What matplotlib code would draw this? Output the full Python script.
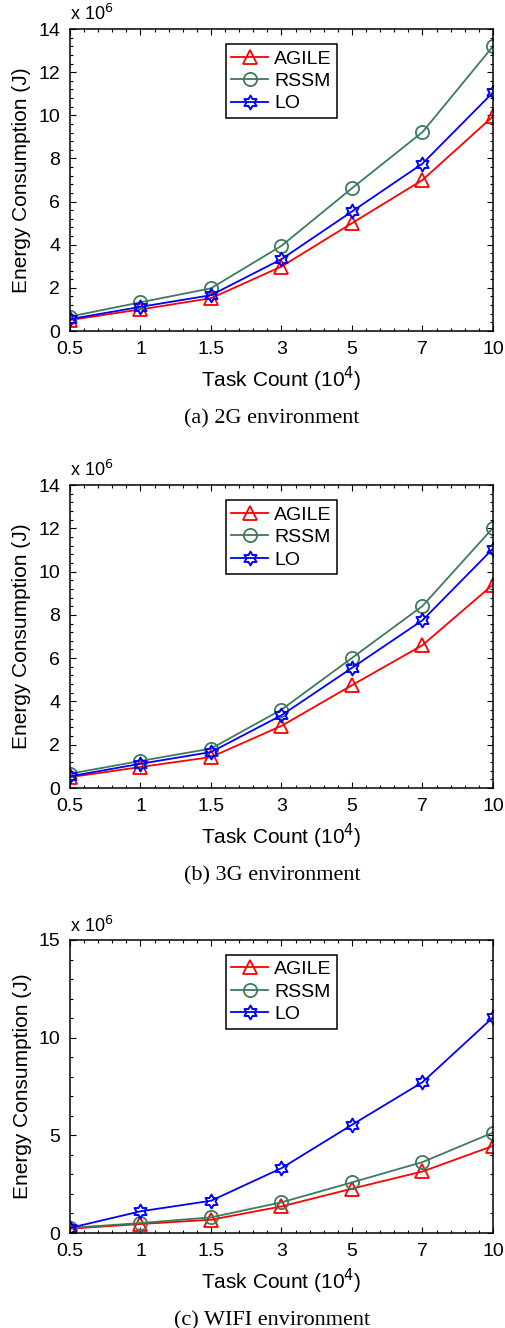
import numpy as np
import matplotlib
matplotlib.use('Agg')
import matplotlib.pyplot as plt
from matplotlib.path import Path
from matplotlib.ticker import AutoMinorLocator

# Task counts (x 10^4) shown as evenly spaced categories
task_labels = ['0.5', '1', '1.5', '3', '5', '7', '10']

# Energy consumption (x 10^6 J)
agile_2g = [0.51, 1.00, 1.52, 2.99, 5.00, 7.00, 9.95]
rssm_2g = [0.67, 1.33, 1.98, 3.95, 6.62, 9.22, 13.2]
lo_2g = [0.55, 1.12, 1.66, 3.33, 5.54, 7.76, 11.06]

agile_3g = [0.50, 0.97, 1.43, 2.87, 4.75, 6.60, 9.40]
rssm_3g = [0.66, 1.25, 1.82, 3.62, 6.01, 8.41, 12.02]
lo_3g = [0.54, 1.12, 1.66, 3.36, 5.55, 7.75, 11.06]

agile_wifi = [0.22, 0.46, 0.68, 1.36, 2.27, 3.15, 4.46]
rssm_wifi = [0.26, 0.51, 0.80, 1.57, 2.59, 3.63, 5.14]
lo_wifi = [0.26, 1.11, 1.65, 3.32, 5.54, 7.72, 11.04]

captions = ['(a) 2G environment', '(b) 3G environment', '(c) WIFI environment']
ymax = [14, 14, 15]
ystep = [2, 2, 5]

# hexagram (star of David) marker
ang = np.deg2rad(90 + np.arange(12) * 30)
rad = np.where(np.arange(12) % 2 == 0, 1.0, 1.0 / np.sqrt(3))
verts = np.column_stack([rad * np.cos(ang), rad * np.sin(ang)])
verts = np.vstack([verts, verts[:1]])
codes = [Path.MOVETO] + [Path.LINETO] * 11 + [Path.CLOSEPOLY]
hexagram = Path(verts, codes)

plt.rcParams['font.family'] = ['Liberation Sans', 'DejaVu Sans']

W, H = 506, 1328
fig = plt.figure(figsize=(W / 100, H / 100), dpi=100)

# axes boxes in pixels: left, top, right, bottom
boxes = [(70, 29, 493, 331), (70, 485, 493, 788), (70, 940, 493, 1233)]
data = [(agile_2g, rssm_2g, lo_2g), (agile_3g, rssm_3g, lo_3g),
        (agile_wifi, rssm_wifi, lo_wifi)]

x = np.arange(len(task_labels))
green = '#3f7a5c'

for i, (l, t, r, b) in enumerate(boxes):
    ax = fig.add_axes([l / W, 1 - b / H, (r - l) / W, (b - t) / H])
    agile, rssm, lo = data[i]
    ax.plot(x, agile, color='red', lw=1.3, marker='^', ms=10.5, mfc='none',
            mew=1.3, label='AGILE')
    ax.plot(x, rssm, color=green, lw=1.3, marker='o', ms=9.5, mfc='none',
            mew=1.3, label='RSSM')
    ax.plot(x, lo, color='blue', lw=1.3, marker=hexagram, ms=10, mfc='none',
            mew=1.4, label='LO')

    ax.set_xlim(0, len(task_labels) - 1)
    ax.set_ylim(0, ymax[i])
    ax.set_xticks(x)
    ax.set_xticklabels(task_labels)
    ax.set_yticks(np.arange(0, ymax[i] + 0.1, ystep[i]))
    ax.xaxis.set_minor_locator(AutoMinorLocator(5))
    ax.yaxis.set_minor_locator(AutoMinorLocator(5))
    ax.tick_params(which='both', direction='in', top=True, right=True,
                   labelsize=14, width=0.8)
    ax.tick_params(axis='x', which='major', pad=7)
    ax.tick_params(axis='y', which='major', pad=7)
    ax.tick_params(which='major', length=4)
    ax.tick_params(which='minor', length=2)
    for s in ax.spines.values():
        s.set_linewidth(1.1)

    ax.set_xlabel('Task Count (10$^4$)', fontsize=15, labelpad=5)
    ax.set_ylabel('Energy Consumption (J)', fontsize=15, labelpad=5)
    ax.text(0.0, 1.015, 'x 10$^6$', transform=ax.transAxes, fontsize=13,
            ha='left', va='bottom')

    leg = ax.legend(loc='upper center', bbox_to_anchor=(0.5, 0.95), fontsize=14,
                    fancybox=False, edgecolor='black', framealpha=1,
                    handlelength=1.9, handletextpad=0.3, borderpad=0.3,
                    labelspacing=0.25, borderaxespad=0)
    leg.get_frame().set_linewidth(1.1)

    fig.text(272 / W, 1 - (b + 88) / H, captions[i],
             fontsize=16, family='Liberation Serif', ha='center', va='center')

fig.savefig('out.png', dpi=100)
